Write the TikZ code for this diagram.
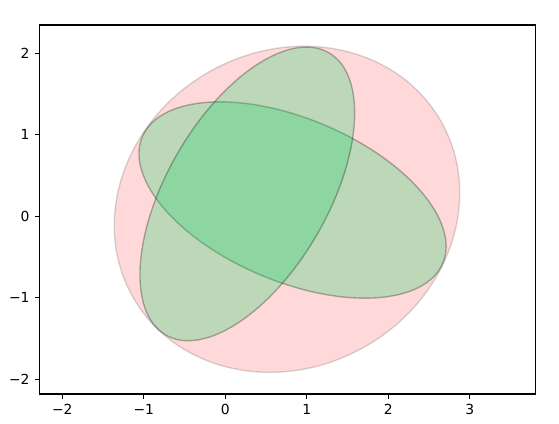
\documentclass[tikz,border=0pt]{standalone}
\usepackage{fontspec}
\setmainfont{DejaVu Sans}
\definecolor{pinkc}{RGB}{255,0,0}
\definecolor{greenc}{RGB}{20,210,100}
\tikzset{
  ell/.style={line width=1.39pt, draw=black},
  pinkell/.style={ell, fill=pinkc, fill opacity=0.15, draw opacity=0.15},
  greenell/.style={ell, fill=greenc, fill opacity=0.28, draw opacity=0.28},
  axisframe/.style={line width=1.11pt, draw=black},
  tick/.style={line width=1.11pt},
  ticklab/.style={font=\fontsize{13.9pt}{16pt}\selectfont, inner sep=0pt}
}
\begin{document}
\begin{tikzpicture}[x=81.5pt,y=81.5pt]
\useasboundingbox (-2.7644,-2.5362) rectangle (4.0945,2.6540);
% ellipses
\path[pinkell, shift={(0.757,0.086)}, rotate=30] (0,0) ellipse [x radius=2.176, y radius=1.938];
\path[greenell, shift={(0.825,0.2)}, rotate=-22.8] (0,0) ellipse [x radius=2.0, y radius=1.0];
\path[greenell, shift={(0.27,0.275)}, rotate=60] (0,0) ellipse [x radius=2.0, y radius=0.99];
% frame
\draw[axisframe] (-2.280,-2.180) rectangle (3.809,2.347);
% x ticks
\foreach \v/\t in {-2/−2,-1/−1,0/0,1/1,2/2,3/3} {
  \draw[tick] (\v,-2.180) -- (\v,-2.240);
  \node[ticklab, anchor=north] (xl\v) at (\v,-2.300) {\t};
}
% y ticks
\foreach \v/\t in {-2/−2,-1/−1,0/0,1/1,2/2} {
  \draw[tick] (-2.280,\v) -- (-2.340,\v);
  \node[ticklab, anchor=east] (yl\v) at (-2.400,\v) {\t};
}
\end{tikzpicture}
\end{document}
